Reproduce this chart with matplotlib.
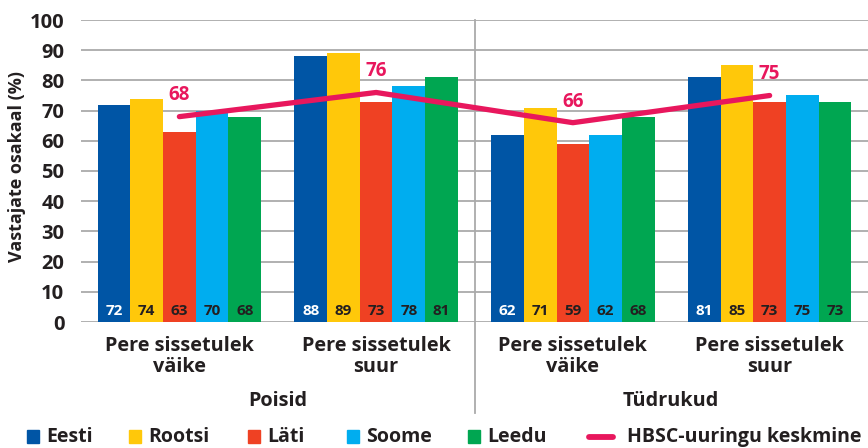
import matplotlib.pyplot as plt
import matplotlib.lines as mlines
import matplotlib.patches as mpatches
import numpy as np

plt.rcParams["font.family"] = ["Open Sans", "DejaVu Sans"]
plt.rcParams["font.weight"] = "bold"

# data
categories = ["Pere sissetulek\nväike", "Pere sissetulek\nsuur",
              "Pere sissetulek\nväike", "Pere sissetulek\nsuur"]
genders = ["Poisid", "Tüdrukud"]
countries = ["Eesti", "Rootsi", "Läti", "Soome", "Leedu"]
values = {
    "Eesti": [72, 88, 62, 81],
    "Rootsi": [74, 89, 71, 85],
    "Läti": [63, 73, 59, 73],
    "Soome": [70, 78, 62, 75],
    "Leedu": [68, 81, 68, 73],
}
hbsc_avg = [68, 76, 66, 75]
line_label = "HBSC-uuringu keskmine"

colors = ["#0055a5", "#ffc80a", "#ef4123", "#00adef", "#00a651"]
label_colors = ["white", "#231f20", "#231f20", "#231f20", "#231f20"]
pink = "#e8175d"
grid_gray = "#aaaaaa"
text_dark = "#231f20"

fig = plt.figure(figsize=(8.68, 4.48), dpi=100)
ax = fig.add_axes([81 / 868, 1 - 322 / 448, 1 - 81 / 868, 302 / 448])

x = np.arange(len(categories))
w = 0.166
for i, (name, col) in enumerate(zip(countries, colors)):
    xs = x + (i - 2) * w
    ax.bar(xs, values[name], width=w, color=col, zorder=2)
    for xi, v in zip(xs, values[name]):
        ax.text(xi, 3.8, str(v), ha="center", va="center", fontsize=11,
                color=label_colors[i], fontweight="bold", zorder=4)

ax.plot(x, hbsc_avg, color=pink, lw=3.8, solid_capstyle="round", zorder=3)
for xi, v in zip(x, hbsc_avg):
    ax.text(xi, v + 7, str(v), ha="center", va="center", fontsize=13.5,
            color=pink, fontweight="bold", zorder=4)

ax.set_xlim(-0.5, 3.5)
ax.set_ylim(0, 100)
ax.set_yticks(range(0, 101, 10))
ax.grid(axis="y", color=grid_gray, lw=1.3, zorder=0)
ax.set_axisbelow(True)
for s in ax.spines.values():
    s.set_visible(False)
ax.tick_params(axis="y", length=0, pad=12, labelsize=14.5, labelcolor=text_dark)
ax.set_xticks([])

fig.text(17 / 868, 1 - 166 / 448, "Vastajate osakaal (%)", rotation=90,
         ha="center", va="center", fontsize=13, color=text_dark, fontweight="bold")

# divider between the two genders
ax.plot([1.5, 1.5], [100, -30], color=grid_gray, lw=1.3, clip_on=False, zorder=1)

for xi, cat in zip(x, categories):
    ax.text(xi, -4.5, cat, ha="center", va="top", fontsize=14.3, color=text_dark,
            fontweight="bold", linespacing=1.12)
for gi, g in enumerate(genders):
    ax.text(2 * gi + 0.5, -26.3, g, ha="center", va="center", fontsize=14.3,
            color=text_dark, fontweight="bold")

# legend drawn by hand along the bottom edge
ly = 1 - 437 / 448
sq_x = [27, 129, 248, 347, 468]
for sx, name, col in zip(sq_x, countries, colors):
    fig.patches.append(mpatches.Rectangle((sx / 868, ly - 6 / 448), 12 / 868, 13 / 448,
                                          transform=fig.transFigure, color=col))
    fig.text((sx + 19) / 868, ly, name, ha="left", va="center", fontsize=14,
             color=text_dark, fontweight="bold")
fig.add_artist(mlines.Line2D([589 / 868, 613 / 868], [ly, ly], color=pink, lw=4.2,
                             solid_capstyle="round", transform=fig.transFigure))
fig.text(627 / 868, ly, line_label, ha="left", va="center", fontsize=14,
         color=text_dark, fontweight="bold")

fig.savefig("out.png", dpi=100)
